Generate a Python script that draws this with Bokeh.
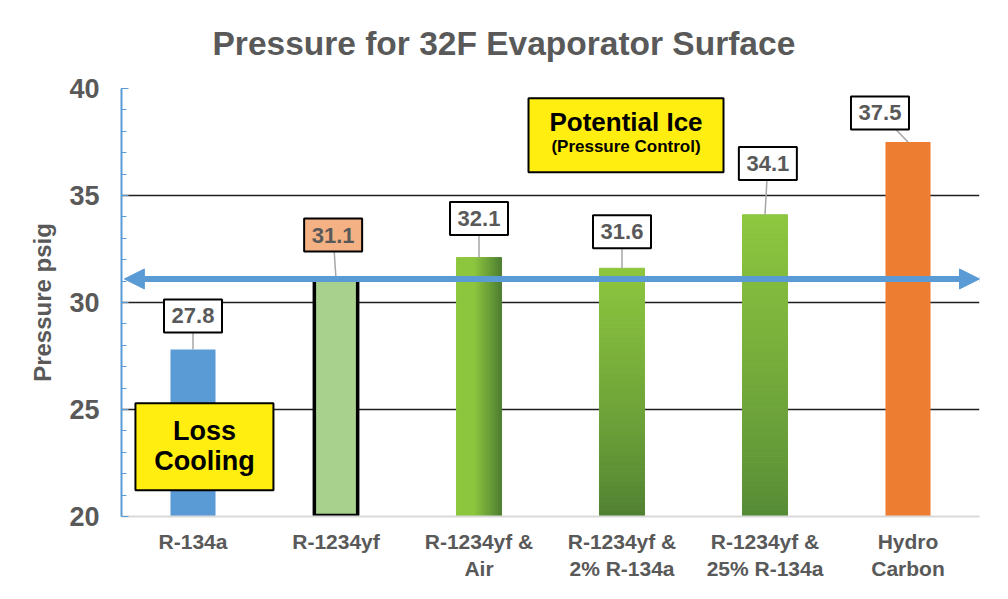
import numpy as np
from bokeh.plotting import figure
from bokeh.models import (Range1d, FixedTicker, SingleIntervalTicker, Arrow, NormalHead)
from bokeh.core.properties import value
from bokeh.embed import file_html
from bokeh.resources import INLINE

# ---- data ----
categories = ["R-134a", "R-1234yf", "R-1234yf &\nAir", "R-1234yf &\n2% R-134a",
              "R-1234yf &\n25% R-134a", "Hydro\nCarbon"]
pressures = [27.8, 31.1, 32.1, 31.6, 34.1, 37.5]
value_labels = ["27.8", "31.1", "32.1", "31.6", "34.1", "37.5"]
reference_level = 31.1
y_ticks = [20, 25, 30, 35, 40]
title_text = "Pressure for 32F Evaporator Surface"

# ---- label placement (offsets in data units) ----
label_dx = [0.0, -0.02, 0.0, 0.0, 0.02, -0.196]
label_dy = [1.57, 2.05, 1.82, 1.71, 2.40, 1.36]

FONT = "Liberation Sans"
GRAY = "#595959"
BLUE = "#5B9BD5"

p = figure(width=992, height=583, output_backend="svg", toolbar_location=None,
           x_range=Range1d(0, 6), y_range=Range1d(y_ticks[0], y_ticks[-1]),
           min_border_left=121, min_border_right=13, min_border_top=88, min_border_bottom=66,
           title=title_text)
p.outline_line_color = None
p.background_fill_color = "white"
p.border_fill_color = "white"

p.title.text_font = FONT
p.title.text_font_size = "33.5px"
p.title.text_font_style = "bold"
p.title.text_color = GRAY
p.title.align = "left"
p.title.offset = 91
p.title.vertical_align = "top"
p.title.standoff = 49

xc = [i + 0.5 for i in range(len(categories))]

# x axis
p.xaxis.ticker = FixedTicker(ticks=xc)
p.xaxis.major_label_overrides = {x: c for x, c in zip(xc, categories)}
p.xaxis.major_tick_line_color = None
p.xaxis.minor_tick_line_color = None
p.xaxis.major_tick_out = 0
p.xaxis.major_tick_in = 0
p.xaxis.axis_line_color = "#D9D9D9"
p.xaxis.axis_line_width = 2
p.xaxis.major_label_text_font = FONT
p.xaxis.major_label_text_font_size = "21px"
p.xaxis.major_label_text_font_style = "bold"
p.xaxis.major_label_text_color = GRAY
p.xaxis.major_label_standoff = 13
p.xgrid.grid_line_color = None

# y axis
p.yaxis.ticker = SingleIntervalTicker(interval=5, num_minor_ticks=5)
p.yaxis.axis_line_color = BLUE
p.yaxis.axis_line_width = 2
p.yaxis.major_tick_line_color = BLUE
p.yaxis.minor_tick_line_color = BLUE
p.yaxis.major_tick_in = 7
p.yaxis.major_tick_out = 0
p.yaxis.minor_tick_in = 5
p.yaxis.minor_tick_out = 0
p.yaxis.major_label_text_font = FONT
p.yaxis.major_label_text_font_size = "27px"
p.yaxis.major_label_text_font_style = "bold"
p.yaxis.major_label_text_color = GRAY
p.yaxis.major_label_standoff = 22
p.yaxis.axis_label = "Pressure psig"
p.yaxis.axis_label_text_font = FONT
p.yaxis.axis_label_text_font_size = "24px"
p.yaxis.axis_label_text_font_style = "bold"
p.yaxis.axis_label_text_color = GRAY
p.yaxis.axis_label_standoff = 10
p.ygrid.grid_line_color = "#1f1f1f"
p.ygrid.grid_line_width = 1.5

base = y_ticks[0]
bw = 0.315


def mix(c1, c2, t):
    a = np.array([int(c1[i:i + 2], 16) for i in (1, 3, 5)])
    b = np.array([int(c2[i:i + 2], 16) for i in (1, 3, 5)])
    c = (a + (b - a) * t).round().astype(int)
    return "#%02x%02x%02x" % tuple(c)


LIGHT = "#8DC63F"
DARK = "#4F7F32"

# plain bars
p.vbar(x=[xc[0]], top=[pressures[0]], bottom=base, width=bw, fill_color=BLUE, line_color=None)
p.vbar(x=[xc[5]], top=[pressures[5]], bottom=base, width=bw, fill_color="#ED7D31", line_color=None)

# horizontal gradient bar (Air)
n = 30
edges = np.linspace(xc[2] - bw / 2, xc[2] + bw / 2, n + 1)
cols = [mix(LIGHT, DARK, max(0.0, (t - 0.4) / 0.6)) for t in (np.arange(n) + 0.5) / n]
p.quad(left=edges[:-1], right=edges[1:], bottom=base, top=pressures[2],
       fill_color=cols, line_color=cols, line_width=1)

# vertical gradient bars
n = 50
for k, dark in ((3, DARK), (4, "#558936")):
    e = np.linspace(base, pressures[k], n + 1)
    tt = (np.arange(n) + 0.5) / n  # 0 bottom -> 1 top
    cols = [mix(dark, LIGHT, t ** 0.8) for t in tt]
    p.quad(left=xc[k] - bw / 2, right=xc[k] + bw / 2, bottom=e[:-1], top=e[1:],
           fill_color=cols, line_color=cols, line_width=1)

# outlined bar (R-1234yf)
p.vbar(x=[xc[1]], top=[pressures[1]], bottom=base + 0.05, width=bw - 0.012, fill_color="#A9D18E",
       line_color="black", line_width=3.5)

# reference arrow
arrow_head = dict(size=20, fill_color=BLUE, line_color=BLUE)
p.add_layout(Arrow(x_start=0.02, y_start=reference_level, x_end=6.0, y_end=reference_level,
                   line_color=BLUE, line_width=6,
                   start=NormalHead(**arrow_head), end=NormalHead(**arrow_head)))

# value labels
lx = [x + d for x, d in zip(xc, label_dx)]
ly = [v + d for v, d in zip(pressures, label_dy)]
p.segment(x0=lx, y0=ly, x1=xc, y1=pressures, line_color="#A6A6A6", line_width=1.5)
box_fill = ["white", "#F4B183", "white", "white", "white", "white"]
p.rect(x=lx, y=ly, width=58, height=33, width_units="screen", height_units="screen",
       fill_color=box_fill, line_color="black", line_width=2)
p.text(x=lx, y=ly, text=value_labels, text_align="center", text_baseline="middle",
       text_font=value(FONT), text_font_size="22px", text_font_style="bold", text_color=GRAY)

# callout boxes
p.rect(x=[0.58], y=[23.26], width=138, height=87, width_units="screen", height_units="screen",
       fill_color="#FFEE10", line_color="black", line_width=2)
p.text(x=[0.58, 0.58], y=[24.0, 22.6], text=["Loss", "Cooling"], text_align="center",
       text_baseline="middle", text_font=value(FONT), text_font_size="27px",
       text_font_style="bold", text_color="black")

p.rect(x=[3.528], y=[37.81], width=195, height=74, width_units="screen", height_units="screen",
       fill_color="#FFEE10", line_color="black", line_width=2)
p.text(x=[3.528], y=[38.42], text=["Potential Ice"], text_align="center",
       text_baseline="middle", text_font=value(FONT), text_font_size="26px",
       text_font_style="bold", text_color="black")
p.text(x=[3.528], y=[37.30], text=["(Pressure Control)"], text_align="center",
       text_baseline="middle", text_font=value(FONT), text_font_size="17px",
       text_font_style="bold", text_color="black")

open("out.html", "w").write(file_html(p, INLINE))
